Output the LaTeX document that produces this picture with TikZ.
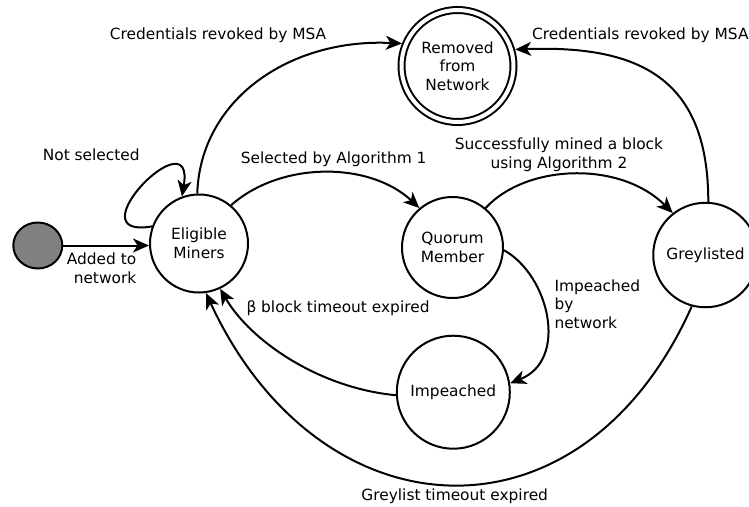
\documentclass[tikz,border=0pt]{standalone}
\usepackage{fontspec}
\setmainfont{DejaVu Sans}
\usetikzlibrary{arrows.meta,shapes.geometric}
\definecolor{startgrey}{HTML}{808080}
\begin{document}
\begin{tikzpicture}[x=1pt,y=1pt,
  font=\fontsize{15.4}{18.6}\selectfont,
  state/.style={circle,draw,line width=2pt,inner sep=0pt,outer sep=1pt,align=center},
  final/.style={state,double,double distance=4pt,outer sep=4pt},
  entry/.style={ellipse,draw,line width=2pt,fill=startgrey,minimum width=49pt,minimum height=46pt,inner sep=0pt,outer sep=1pt},
  edge/.style={line width=2pt,-{Stealth[length=16pt,width=14pt,inset=4.5pt]}},
  lbl/.style={inner sep=0pt,align=center}]
\useasboundingbox (0,0) rectangle (749,-506);

% states
\node[entry] (start) at (37.8,-245.5) {};
\node[state,minimum size=98pt] (elig) at (199,-243.5) {Eligible\\Miners};
\node[final,minimum size=112pt] (rem) at (457.5,-66) {Removed\\from\\Network};
\node[state,minimum size=101pt] (quor) at (452.5,-247.5) {Quorum\\Member};
\node[state,minimum size=104.5pt] (grey) at (705.5,-255) {Greylisted};
\node[state,minimum size=113pt] (imp) at (453.3,-392.2) {Impeached};

% transitions
\draw[edge] (start.east) -- (elig.west |- start.east);
\draw[edge] (elig.160) .. controls +(-80,-14) and +(14,82) .. (elig.110);
\draw[edge] (elig.92) .. controls +(3,94) and +(-112,5.5) .. (rem.158);
\draw[edge] (grey.87) .. controls +(0,123) and +(125,4.5) .. (rem.16);
\draw[edge] (elig.50) .. controls +(49.5,44) and +(-50,46.8) .. (quor.130);
\draw[edge] (quor.50) .. controls +(40,43.8) and +(-53,53) .. (grey.128);
\draw[edge] (quor.-3) .. controls +(45.1,-24.9) and +(58.9,23.4) .. (imp.9);
\draw[edge] (imp.183) .. controls +(-76.9,7.2) and +(30.3,-52.1) .. (elig.-65);
\draw[edge] (grey.-105) .. controls +(-110.3,-247.3) and +(113.2,-245) .. (elig.-82);

% transition labels
\node[lbl,align=right,anchor=east] (laddnet) at (136.5,-268.5) {Added to\\network};
\node[lbl] (lnotsel) at (91.3,-154.3) {Not selected};
\node[lbl] (lrevoke1) at (218,-35.7) {Credentials revoked by MSA};
\node[lbl,anchor=west] (lrevoke2) at (532,-35) {Credentials revoked by MSA};
\node[lbl] (lselect) at (333.7,-159) {Selected by Algorithm 1};
\node[lbl] (lmined) at (559,-154.5) {Successfully mined a block\\using Algorithm 2};
\node[lbl,align=left,anchor=west] (limpeach) at (554.3,-304) {Impeached\\by\\network};
\node[lbl] (lbeta) at (338,-308.3) {β block timeout expired};
\node[lbl] (lgreyto) at (454.7,-496) {Greylist timeout expired};
\end{tikzpicture}
\end{document}
